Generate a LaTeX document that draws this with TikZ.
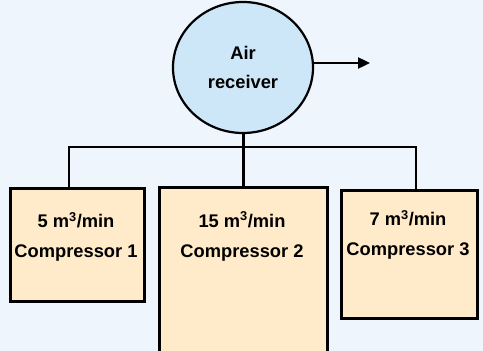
\documentclass[tikz,border=0pt]{standalone}
\usepackage{fontspec}
\setmainfont{Liberation Sans}
\usetikzlibrary{arrows.meta,shapes.geometric}
\definecolor{bg}{HTML}{EEF5FD}
\definecolor{rcv}{HTML}{CDE6F8}
\definecolor{cmp}{HTML}{FFEBC9}
\tikzset{
  recv/.style={ellipse,draw=black,line width=2.2pt,fill=rcv,minimum width=140pt,minimum height=131pt,inner sep=0pt,align=center,font=\bfseries\fontsize{18.3}{29}\selectfont},
  cbox/.style={rectangle,draw=black,line width=2.8pt,fill=cmp,inner sep=0pt,anchor=north west},
  lbl/.style={align=center,inner sep=0pt,font=\bfseries\fontsize{18.3}{30}\selectfont},
  wire/.style={line width=2.4pt,draw=black},
}
\begin{document}
\begin{tikzpicture}[x=1pt,y=-1pt]
\clip (0,0) rectangle (483,351);
\fill[bg] (0,0) rectangle (483,351);
\node[recv] (air) at (243,67.5) {Air\\receiver};
\node[cbox,minimum width=134pt,minimum height=113pt] (c1) at (9,187) {};
\node[cbox,minimum width=168pt,minimum height=180pt] (c2) at (158,186) {};
\node[cbox,minimum width=136pt,minimum height=128pt] (c3) at (340,189) {};
\node[lbl] (t1) at (76,237) {5 m\textsuperscript{3}/min\\Compressor 1};
\node[lbl] (t2) at (242,236.5) {15 m\textsuperscript{3}/min\\Compressor 2};
\node[lbl] (t3) at (408,235) {7 m\textsuperscript{3}/min\\Compressor 3};
\coordinate (b1) at (69,147);
\coordinate (b3) at (416,147);
\coordinate (out) at (370,63);
\draw[wire] (air.south -| c2.north) -- (c2.north);
\draw[wire] (b1 |- c1.north) -- (b1) -- (b3) -- (b3 |- c3.north);
\draw[wire,-{Triangle[length=12pt,width=11pt]}] (air.east |- out) -- (out);
\end{tikzpicture}
\end{document}
